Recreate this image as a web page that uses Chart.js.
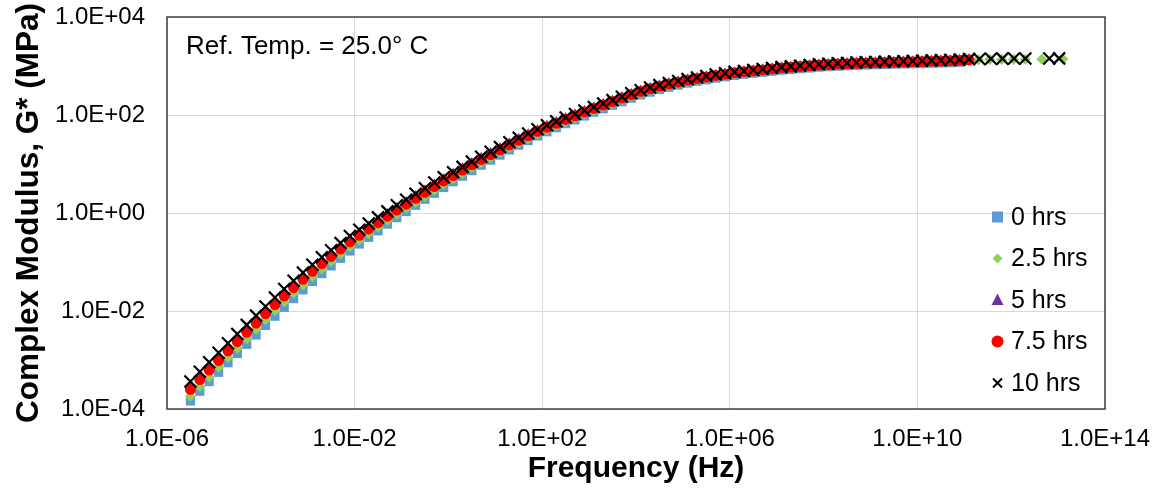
<!DOCTYPE html>
<html>
<head>
<meta charset="utf-8">
<script src="https://cdn.jsdelivr.net/npm/chart.js@4"></script>
<style>
  html, body { margin: 0; padding: 0; background: #fff; }
  canvas { display: block; }
</style>
</head>
<body>
<canvas id="masterCurve" width="1160" height="495"></canvas>
<script>
// reduced frequency (Hz) of the shifted sweeps
var freq = [
  3.16e-6, 5.01e-6, 7.94e-6,
  1.26e-5, 2.00e-5, 3.16e-5, 5.01e-5, 7.94e-5,
  1.26e-4, 2.00e-4, 3.16e-4, 5.01e-4, 7.94e-4,
  1.26e-3, 2.00e-3, 3.16e-3, 5.01e-3, 7.94e-3,
  1.26e-2, 2.00e-2, 3.16e-2, 5.01e-2, 7.94e-2,
  0.126, 0.200, 0.316, 0.501, 0.794,
  1.26, 2.00, 3.16, 5.01, 7.94,
  12.6, 20.0, 31.6, 50.1, 79.4,
  126, 200, 316, 501, 794,
  1.26e3, 2.00e3, 3.16e3, 5.01e3, 7.94e3,
  1.26e4, 2.00e4, 3.16e4, 5.01e4, 7.94e4,
  1.26e5, 2.00e5, 3.16e5, 5.01e5, 7.94e5,
  1.26e6, 2.00e6, 3.16e6, 5.01e6, 7.94e6,
  1.26e7, 2.00e7, 3.16e7, 5.01e7, 7.94e7,
  1.26e8, 2.00e8, 3.16e8, 5.01e8, 7.94e8,
  1.26e9, 2.00e9, 3.16e9, 5.01e9, 7.94e9,
  1.26e10, 2.00e10, 3.16e10, 5.01e10, 7.94e10,
  1.26e11
];
// extra high-frequency points of the 2.5 hrs and 10 hrs sets
var freqTail25 = [2.0e11, 3.5e11, 6.3e11, 1.12e12, 2.0e12, 4.5e12, 1.26e13];
var freqTail10 = [2.1e11, 3.7e11, 6.5e11, 1.15e12, 2.0e12, 6.5e12, 1.05e13];

// complex modulus G* (MPa)
var g0hrs = [
  1.46e-4, 2.31e-4, 3.62e-4, 5.62e-4, 8.80e-4, 1.36e-3, 2.09e-3, 3.24e-3, 5.07e-3, 7.83e-3,
  1.19e-2, 1.79e-2, 2.70e-2, 4.01e-2, 5.81e-2, 8.32e-2, 0.119, 0.168, 0.233, 0.319,
  0.434, 0.594, 0.805, 1.07, 1.44, 1.91, 2.53, 3.32, 4.34, 5.63,
  7.34, 9.47, 12.0, 15.2, 19.4, 24.2, 30.1, 37.4, 45.5, 55.1,
  66.7, 79.7, 95.5, 114, 134, 158, 187, 221, 257, 293,
  331, 369, 407, 449, 489, 524, 565, 602, 644, 679,
  711, 745, 784, 821, 850, 879, 911, 948, 970, 992,
  1011, 1033, 1049, 1064, 1074, 1089, 1099, 1115, 1125, 1140,
  1151, 1167, 1186
];
var g25hrs = [
  1.81e-4, 2.87e-4, 4.49e-4, 7.08e-4, 1.12e-3, 1.74e-3, 2.72e-3, 4.24e-3, 6.61e-3, 1.02e-2,
  1.54e-2, 2.29e-2, 3.40e-2, 5.01e-2, 7.20e-2, 0.102, 0.145, 0.204, 0.281, 0.381,
  0.517, 0.702, 0.943, 1.25, 1.66, 2.20, 2.91, 3.82, 4.95, 6.41,
  8.31, 10.6, 13.5, 17.1, 21.6, 26.8, 33.3, 41.1, 50.0, 60.5,
  73.2, 86.9, 104, 124, 146, 172, 202, 239, 278, 317,
  356, 397, 435, 480, 520, 560, 600, 635, 681, 717,
  750, 786, 827, 866, 897, 928, 966, 1000, 1024, 1047,
  1067, 1084, 1101, 1116, 1127, 1143, 1154, 1170, 1180, 1197,
  1208, 1224, 1244, 1274
];
var g25hrsTail = [1340, 1350, 1360, 1365, 1370, 1380, 1390];
var g5hrs = [
  3.01e-4, 4.78e-4, 7.46e-4, 1.16e-3, 1.81e-3, 2.80e-3, 4.31e-3, 6.66e-3, 1.03e-2, 1.57e-2,
  2.34e-2, 3.45e-2, 5.08e-2, 7.40e-2, 0.105, 0.148, 0.208, 0.289, 0.393, 0.529,
  0.711, 0.957, 1.28, 1.67, 2.21, 2.90, 3.82, 4.97, 6.39, 8.21,
  10.5, 13.4, 16.8, 21.2, 26.5, 32.9, 40.5, 49.6, 60.1, 72.2,
  86.6, 103, 122, 144, 169, 198, 232, 273, 317, 359,
  403, 446, 488, 535, 578, 620, 662, 700, 749, 785,
  820, 859, 897, 939, 970, 1003, 1038, 1073, 1099, 1123,
  1145, 1163, 1182, 1198, 1210, 1227, 1238, 1256, 1267, 1284,
  1297, 1314, 1336, 1367
];
var g75hrs = [
  2.51e-4, 3.98e-4, 6.24e-4, 9.77e-4, 1.53e-3, 2.37e-3, 3.67e-3, 5.69e-3, 8.81e-3, 1.35e-2,
  2.02e-2, 2.99e-2, 4.42e-2, 6.46e-2, 9.23e-2, 0.130, 0.184, 0.257, 0.351, 0.473,
  0.638, 0.861, 1.15, 1.51, 2.00, 2.63, 3.47, 4.52, 5.82, 7.50,
  9.66, 12.3, 15.5, 19.5, 24.5, 30.5, 37.6, 46.2, 56.2, 67.6,
  81.3, 96.6, 115, 136, 160, 188, 221, 260, 302, 343,
  385, 427, 468, 513, 556, 596, 638, 676, 724, 759,
  794, 832, 871, 912, 944, 977, 1012, 1047, 1072, 1096,
  1117, 1135, 1153, 1169, 1180, 1197, 1208, 1225, 1236, 1253,
  1265, 1282, 1303, 1334
];
var g10hrs = [
  3.64e-4, 5.75e-4, 8.99e-4, 1.40e-3, 2.19e-3, 3.38e-3, 5.21e-3, 8.05e-3, 1.24e-2, 1.89e-2,
  2.81e-2, 4.13e-2, 6.06e-2, 8.79e-2, 0.125, 0.174, 0.245, 0.338, 0.456, 0.610,
  0.813, 1.08, 1.44, 1.87, 2.46, 3.21, 4.18, 5.38, 6.81, 8.74,
  11.2, 14.1, 17.7, 22.1, 27.7, 34.2, 41.9, 51.3, 61.8, 74.0,
  88.6, 105, 124, 146, 172, 201, 236, 277, 321, 364,
  407, 451, 493, 540, 584, 626, 669, 708, 758, 793,
  829, 868, 908, 948, 982, 1014, 1049, 1085, 1110, 1134,
  1156, 1175, 1193, 1210, 1221, 1239, 1250, 1268, 1279, 1297,
  1309, 1327, 1349, 1381
];
var g10hrsTail = [1395, 1405, 1412, 1418, 1422, 1428, 1432];

var seriesNames = ['0 hrs', '2.5 hrs', '5 hrs', '7.5 hrs', '10 hrs'];
var xTicks = [1e-6, 1e-2, 1e2, 1e6, 1e10, 1e14];
var xTickLabels = ['1.0E-06', '1.0E-02', '1.0E+02', '1.0E+06', '1.0E+10', '1.0E+14'];
var yTicks = [1e-4, 1e-2, 1, 1e2, 1e4];
var yTickLabels = ['1.0E-04', '1.0E-02', '1.0E+00', '1.0E+02', '1.0E+04'];
var refLabel = 'Ref. Temp. = 25.0\u00b0 C';

var FONT = "'Liberation Sans', Arial, sans-serif";

var markers = [
  { color: '#5B9BD5', shape: 'rect', radius: 6.5 },
  { color: '#92D050', shape: 'rectRot', radius: 5.5 },
  { color: '#7030A0', shape: 'triangle', radius: 6 },
  { color: '#FF0000', shape: 'circle', radius: 5.5 },
  { color: '#000000', shape: 'crossRot', radius: 8.5 }
];

function toPoints(xs, ys) {
  var pts = [];
  for (var i = 0; i < ys.length; i++) {
    pts.push({ x: xs[i], y: ys[i] });
  }
  return pts;
}

var seriesData = [
  toPoints(freq, g0hrs),
  toPoints(freq.concat(freqTail25), g25hrs.concat(g25hrsTail)),
  toPoints(freq, g5hrs),
  toPoints(freq, g75hrs),
  toPoints(freq.concat(freqTail10), g10hrs.concat(g10hrsTail))
];

var datasets = [];
for (var s = 0; s < seriesNames.length; s++) {
  var m = markers[s];
  datasets.push({
    label: seriesNames[s],
    data: seriesData[s],
    order: seriesNames.length - s,
    pointStyle: m.shape,
    pointRadius: m.radius,
    pointHoverRadius: m.radius,
    backgroundColor: m.color,
    borderColor: m.color,
    borderWidth: m.shape === 'crossRot' ? 2.2 : 0,
    pointBorderWidth: m.shape === 'crossRot' ? 2.2 : 0
  });
}

function drawLegendMarker(ctx, shape, x, y, color) {
  ctx.save();
  ctx.fillStyle = color;
  ctx.strokeStyle = color;
  ctx.beginPath();
  if (shape === 'rect') {
    ctx.rect(x - 5.5, y - 5.5, 11, 11);
    ctx.fill();
  } else if (shape === 'rectRot') {
    ctx.moveTo(x, y - 5);
    ctx.lineTo(x + 5, y);
    ctx.lineTo(x, y + 5);
    ctx.lineTo(x - 5, y);
    ctx.closePath();
    ctx.fill();
  } else if (shape === 'triangle') {
    ctx.moveTo(x, y - 6.5);
    ctx.lineTo(x + 6, y + 5);
    ctx.lineTo(x - 6, y + 5);
    ctx.closePath();
    ctx.fill();
  } else if (shape === 'circle') {
    ctx.arc(x, y, 6, 0, Math.PI * 2);
    ctx.fill();
  } else {
    ctx.lineWidth = 2;
    ctx.moveTo(x - 4.5, y - 4.5);
    ctx.lineTo(x + 4.5, y + 4.5);
    ctx.moveTo(x + 4.5, y - 4.5);
    ctx.lineTo(x - 4.5, y + 4.5);
    ctx.stroke();
  }
  ctx.restore();
}

// plot box, reference temperature note and the legend inside the plot
var overlay = {
  id: 'overlay',
  afterDraw: function (chart) {
    var ctx = chart.ctx;
    var a = chart.chartArea;
    ctx.save();
    ctx.strokeStyle = '#404040';
    ctx.lineWidth = 1.5;
    ctx.strokeRect(a.left, a.top, a.right - a.left, a.bottom - a.top);

    ctx.fillStyle = '#000';
    ctx.font = '26px ' + FONT;
    ctx.textAlign = 'left';
    ctx.textBaseline = 'alphabetic';
    ctx.fillText(refLabel, a.left + 19, a.top + 37);

    ctx.font = '25px ' + FONT;
    ctx.textBaseline = 'middle';
    for (var i = 0; i < seriesNames.length; i++) {
      var y = 217 + i * 41.5;
      drawLegendMarker(ctx, markers[i].shape, 997.5, y, markers[i].color);
      ctx.fillStyle = '#000';
      ctx.fillText(seriesNames[i], 1011, y + 1);
    }
    ctx.restore();
  }
};

new Chart(document.getElementById('masterCurve').getContext('2d'), {
  type: 'scatter',
  data: { datasets: datasets },
  options: {
    responsive: false,
    animation: false,
    devicePixelRatio: 1,
    layout: { padding: { top: 17, right: 55, left: 0, bottom: 0 } },
    plugins: {
      legend: { display: false },
      tooltip: { enabled: false }
    },
    scales: {
      x: {
        type: 'logarithmic',
        min: 1e-6,
        max: 1e14,
        afterBuildTicks: function (axis) {
          axis.ticks = xTicks.map(function (v) { return { value: v }; });
        },
        afterFit: function (axis) {
          axis.height = 86;
          axis.paddingLeft = 0;
          axis.paddingRight = 0;
        },
        ticks: {
          autoSkip: false,
          maxRotation: 0,
          padding: 16,
          color: '#000',
          font: { family: FONT, size: 24 },
          callback: function (value, index) { return xTickLabels[index]; }
        },
        grid: { color: '#d9d9d9', lineWidth: 1, drawTicks: false },
        border: { display: false },
        title: {
          display: true,
          text: 'Frequency (Hz)',
          color: '#000',
          font: { family: FONT, size: 30, weight: 'bold' },
          padding: { top: 0, bottom: 8 }
        }
      },
      y: {
        type: 'logarithmic',
        min: 1e-4,
        max: 1e4,
        afterBuildTicks: function (axis) {
          axis.ticks = yTicks.map(function (v) { return { value: v }; });
        },
        afterFit: function (axis) {
          axis.width = 167;
          axis.paddingTop = 0;
          axis.paddingBottom = 0;
        },
        ticks: {
          autoSkip: false,
          padding: 22,
          color: '#000',
          font: { family: FONT, size: 24 },
          callback: function (value, index) { return yTickLabels[index]; }
        },
        grid: { color: '#d9d9d9', lineWidth: 1, drawTicks: false },
        border: { display: false },
        title: {
          display: true,
          text: 'Complex Modulus, G* (MPa)',
          color: '#000',
          font: { family: FONT, size: 31.5, weight: 'bold' },
          padding: { top: 10, bottom: 0 }
        }
      }
    }
  },
  plugins: [overlay]
});
</script>
</body>
</html>
